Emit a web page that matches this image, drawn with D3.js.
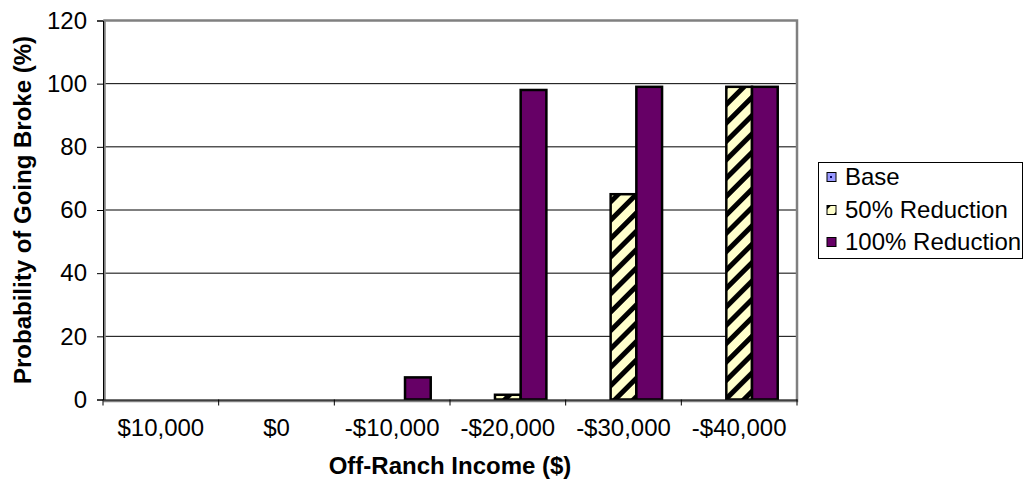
<!DOCTYPE html>
<html>
<head>
<meta charset="utf-8">
<script src="https://cdn.jsdelivr.net/npm/d3@7"></script>
<style>
  html, body { margin: 0; padding: 0; background: #fff; }
  svg { display: block; font-family: Arial, "Liberation Sans", sans-serif; }
</style>
</head>
<body>
<svg id="chart" width="1025" height="480"></svg>
<script>
// Off-ranch income scenarios and probability of going broke (%)
const categories = ["$10,000", "$0", "-$10,000", "-$20,000", "-$30,000", "-$40,000"];
const seriesNames = ["Base", "50% Reduction", "100% Reduction"];
const baseValues = [0, 0, 0, 0, 0, 0];
const reduction50Values = [0, 0, 0, 1.5, 65, 99];
const reduction100Values = [0, 0, 7, 98, 99, 99];
const yTicks = [0, 20, 40, 60, 80, 100, 120];

const seriesValues = [baseValues, reduction50Values, reduction100Values];
const fills = ["url(#basePattern)", "url(#hatch50)", "#660066"];
const FONT = 24;

const svg = d3.select("#chart");
const plot = { left: 103, right: 797, top: 20.5, bottom: 399.5 };

// Fill patterns
const defs = svg.append("defs");
const bp = defs.append("pattern").attr("id", "basePattern")
  .attr("patternUnits", "userSpaceOnUse").attr("width", 6).attr("height", 6);
bp.append("rect").attr("width", 6).attr("height", 6).attr("fill", "#9999ff");
bp.append("rect").attr("x", 2).attr("y", 2).attr("width", 2).attr("height", 2).attr("fill", "#000066");

const hp = defs.append("pattern").attr("id", "hatch50")
  .attr("patternUnits", "userSpaceOnUse").attr("width", 13).attr("height", 13)
  .attr("patternTransform", "rotate(45)");
hp.append("rect").attr("width", 13).attr("height", 13).attr("fill", "#ffffcc");
hp.append("rect").attr("x", 0).attr("width", 5).attr("height", 13).attr("fill", "#000");

const x0 = d3.scaleBand().domain(categories).range([plot.left, plot.right]).paddingInner(0).paddingOuter(0);
const x1 = d3.scaleBand().domain(seriesNames).range([0, x0.bandwidth()]).paddingInner(0).paddingOuter(0.75);
const y = d3.scaleLinear().domain([0, 120]).range([plot.bottom, plot.top]);

// Gridlines
svg.append("g").selectAll("line").data(yTicks.filter(t => t > 0 && t < 120)).join("line")
  .attr("x1", plot.left).attr("x2", plot.right)
  .attr("y1", d => y(d)).attr("y2", d => y(d))
  .attr("stroke", "#000").attr("stroke-width", 1);

// Bars
const rows = [];
categories.forEach((c, i) => seriesNames.forEach((s, j) => rows.push({ cat: c, series: s, j, value: seriesValues[j][i] })));
svg.append("g").selectAll("rect").data(rows.filter(d => d.value > 0)).join("rect")
  .attr("x", d => x0(d.cat) + x1(d.series))
  .attr("width", x1.bandwidth())
  .attr("y", d => y(d.value))
  .attr("height", d => y(0) - y(d.value))
  .attr("fill", d => fills[d.j])
  .attr("stroke", "#000").attr("stroke-width", 2.5);

// Plot-area border
svg.append("rect").attr("x", plot.left + 1.5).attr("y", plot.top).attr("width", plot.right - plot.left - 1.5)
  .attr("height", plot.bottom - plot.top + 1.5)
  .attr("fill", "none").attr("stroke", "#808080").attr("stroke-width", 2.5);

// Y axis
const yAxis = svg.append("g").attr("transform", `translate(${plot.left},0)`)
  .call(d3.axisLeft(y).tickValues(yTicks).tickSize(6).tickPadding(10).tickFormat(d3.format("d")));
yAxis.select(".domain").attr("stroke", "#000").attr("stroke-width", 1);
yAxis.selectAll(".tick line").attr("stroke", "#000");
yAxis.selectAll("text").attr("font-size", FONT).attr("fill", "#000").attr("font-family", "Arial, 'Liberation Sans', sans-serif");

// X axis
const xAxis = svg.append("g").attr("transform", `translate(0,${plot.bottom})`)
  .call(d3.axisBottom(x0).tickSize(0).tickPadding(19));
xAxis.select(".domain").attr("stroke", "#000").attr("stroke-width", 1);
xAxis.selectAll("text").attr("font-size", FONT).attr("fill", "#000").attr("font-family", "Arial, 'Liberation Sans', sans-serif");
// Category boundary ticks
svg.append("g").selectAll("line").data(d3.range(categories.length + 1)).join("line")
  .attr("x1", i => plot.left + i * x0.bandwidth()).attr("x2", i => plot.left + i * x0.bandwidth())
  .attr("y1", plot.bottom).attr("y2", plot.bottom + 6)
  .attr("stroke", "#000").attr("stroke-width", 1);

// Axis titles
svg.append("text").attr("x", (plot.left + plot.right) / 2).attr("y", 474)
  .attr("text-anchor", "middle").attr("font-weight", "bold").attr("font-size", FONT)
  .text("Off-Ranch Income ($)");
svg.append("text").attr("transform", `translate(31,${(plot.top + plot.bottom) / 2}) rotate(-90)`)
  .attr("text-anchor", "middle").attr("font-weight", "bold").attr("font-size", FONT)
  .text("Probability of Going Broke (%)");

// Legend
const legend = svg.append("g");
legend.append("rect").attr("x", 818.5).attr("y", 162.5).attr("width", 204).attr("height", 96)
  .attr("fill", "#fff").attr("stroke", "#000").attr("stroke-width", 1);
const ly = [177, 210, 242];
seriesNames.forEach((s, j) => {
  legend.append("rect").attr("x", 827).attr("y", ly[j] - 4.5).attr("width", 9).attr("height", 9)
    .attr("fill", fills[j]).attr("stroke", "#000").attr("stroke-width", 1);
  legend.append("text").attr("x", 845).attr("y", ly[j]).attr("dy", "0.35em")
    .attr("font-size", FONT).text(s);
});
</script>
</body>
</html>
